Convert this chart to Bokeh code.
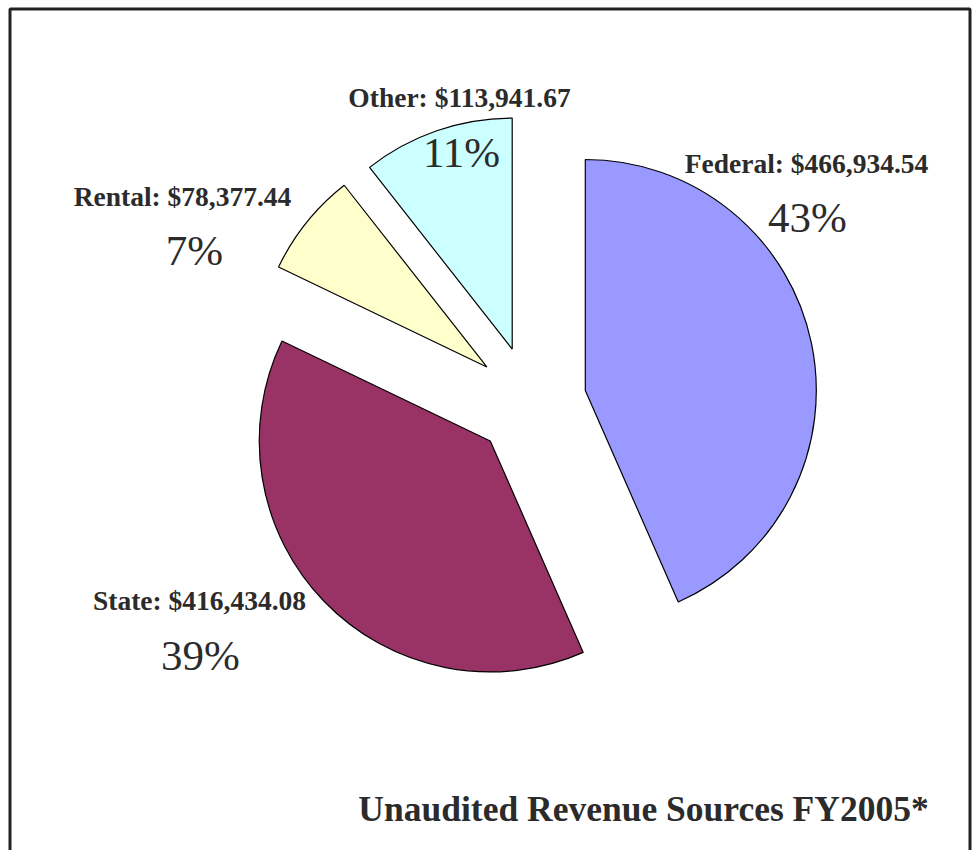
import math
from bokeh.plotting import figure
from bokeh.models import Range1d, BoxAnnotation, ColumnDataSource
from bokeh.core.properties import value
from bokeh.embed import file_html
from bokeh.resources import INLINE

# ---- data ----
categories = ["Federal", "State", "Rental", "Other"]
amounts = [466934.54, 416434.08, 78377.44, 113941.67]
amount_labels = ["$466,934.54", "$416,434.08", "$78,377.44", "$113,941.67"]
percent_labels = ["43%", "39%", "7%", "11%"]
colors = ["#9999FF", "#993366", "#FFFFCC", "#CCFFFF"]
title_text = "Unaudited Revenue Sources FY2005*"

# ---- layout ----
W, H = 974, 850
CX, CY = 530, H - 401.5
R = 231
EXPLODE = 56
# label anchors (screen coords) for name line and percent line
label_pos = [(806, 163, 807, 217), (199, 600, 200, 655), (182, 196, 194, 250), (459, 97, 461, 152)]

p = figure(width=W, height=H, output_backend="svg", toolbar_location=None,
           x_range=Range1d(0, W), y_range=Range1d(0, H), min_border=0)
p.axis.visible = False
p.grid.visible = False
p.outline_line_color = None
p.background_fill_color = "white"
p.border_fill_color = "white"

total = sum(amounts)
xs, ys, starts, ends = [], [], [], []
cum = 0.0
for a in amounts:
    s = math.pi / 2 - 2 * math.pi * cum / total
    cum += a
    e = math.pi / 2 - 2 * math.pi * cum / total
    mid = (s + e) / 2
    xs.append(CX + EXPLODE * math.cos(mid))
    ys.append(CY + EXPLODE * math.sin(mid))
    starts.append(s)
    ends.append(e)

src = ColumnDataSource(dict(x=xs, y=ys, start=starts, end=ends, color=colors))
p.wedge(x="x", y="y", radius=R, start_angle="start", end_angle="end",
        direction="clock", fill_color="color", line_color="black", line_width=1.2, source=src)

font = value("Liberation Serif")
tcol = "#2b2b2b"
names = [f"{c}: {a}" for c, a in zip(categories, amount_labels)]
lsrc = ColumnDataSource(dict(
    x=[lp[0] for lp in label_pos], y=[H - lp[1] for lp in label_pos], t=names))
psrc = ColumnDataSource(dict(
    x=[lp[2] for lp in label_pos], y=[H - lp[3] for lp in label_pos], t=percent_labels))
p.text(x="x", y="y", text="t", source=lsrc, text_font=font, text_font_size="27.5px",
       text_font_style="bold", text_color=tcol, text_align="center", text_baseline="middle")
p.text(x="x", y="y", text="t", source=psrc, text_font=font, text_font_size="43px",
       text_color=tcol, text_align="center", text_baseline="middle")
p.text(x=[643], y=[H - 808], text=[title_text], text_font=font, text_font_size="35.5px",
       text_font_style="bold", text_color=tcol, text_align="center", text_baseline="middle")

p.add_layout(BoxAnnotation(left=9.5, right=969.5, top=H - 8.5, bottom=-20,
                           fill_color=None, line_color="#222222", line_alpha=1.0,
                           line_width=3))

open("out.html", "w").write(file_html(p, INLINE))
